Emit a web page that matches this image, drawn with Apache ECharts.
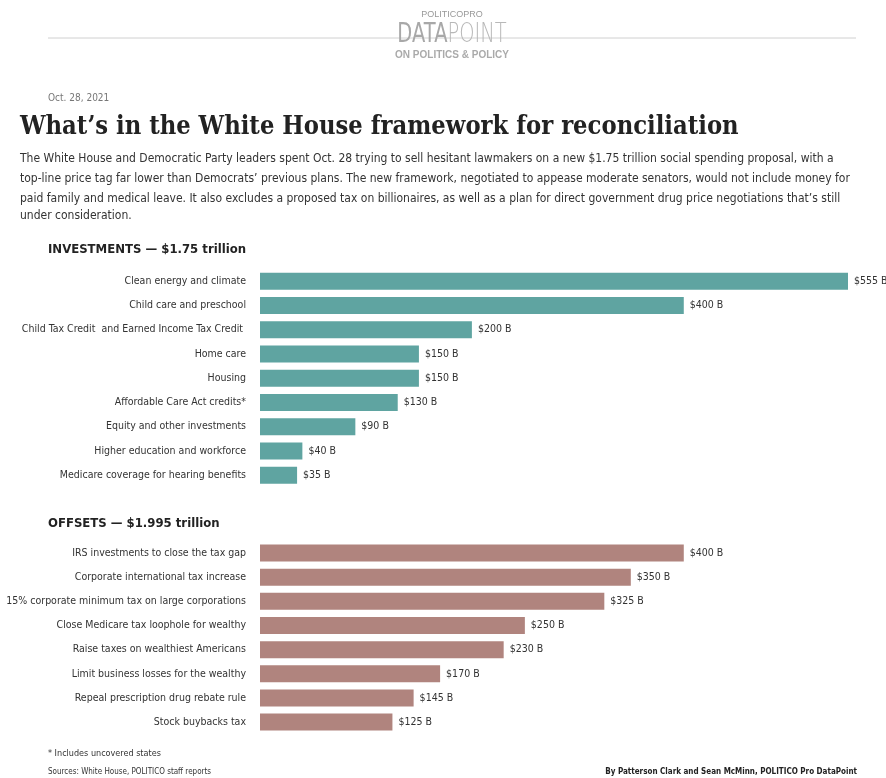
<!DOCTYPE html>
<html><head><meta charset="utf-8">
<script src="https://cdn.jsdelivr.net/npm/echarts@6/dist/echarts.min.js"></script>
<style>html,body{margin:0;padding:0;background:#fff}#c{width:886px;height:778px}</style>
</head><body><div id="c"></div>
<script>
const investCats = ["Clean energy and climate","Child care and preschool","Child Tax Credit  and Earned Income Tax Credit ","Home care","Housing","Affordable Care Act credits*","Equity and other investments","Higher education and workforce","Medicare coverage for hearing benefits"];
const investVals = [555,400,200,150,150,130,90,40,35];
const offsetCats = ["IRS investments to close the tax gap","Corporate international tax increase","15% corporate minimum tax on large corporations","Close Medicare tax loophole for wealthy","Raise taxes on wealthiest Americans","Limit business losses for the wealthy","Repeal prescription drug rebate rule","Stock buybacks tax"];
const offsetVals = [400,350,325,250,230,170,145,125];

const narrow = "'Liberation Sans Narrow','DejaVu Sans Condensed',sans-serif";
const chart = echarts.init(document.getElementById('c'));
const pxPerB = 588/555;
const xMax = 580;
const gridW = xMax*pxPerB;
function grid(top,n,sp){return {left:260,width:gridW,top:top,height:n*sp,containLabel:false,outerBoundsMode:'none'};}
function xa(i){return {gridIndex:i,type:'value',min:0,max:xMax,show:false};}
function ya(i,cats){return {gridIndex:i,type:'category',data:cats,inverse:true,axisLine:{show:false},axisTick:{show:false},splitLine:{show:false},
  axisLabel:{margin:14,fontFamily:narrow,fontSize:10.5,color:'#333'}};}
function ser(i,vals,color){return {type:'bar',xAxisIndex:i,yAxisIndex:i,data:vals,barWidth:17,itemStyle:{color:color},
  label:{show:true,position:'right',distance:6,fontFamily:narrow,fontSize:10.5,color:'#333',formatter:p=>'$'+p.value+' B'},silent:true,animation:false};}
const txt=(x,y,text,font,fill,align,extra)=>Object.assign({type:'text',x:x,y:y,style:{text:text,font:font,fill:fill,textAlign:align||'left',textVerticalAlign:'middle'}},extra||{});
chart.setOption({
  animation:false,
  grid:[grid(269,9,24.25),grid(541,8,24.14)],
  xAxis:[xa(0),xa(1)],
  yAxis:[ya(0,investCats),ya(1,offsetCats)],
  series:[ser(0,investVals,'#5fa4a1'),ser(1,offsetVals,'#b0847e')],
  graphic:[
    {type:'line',shape:{x1:48,y1:38,x2:856,y2:38},style:{stroke:'#d0d0d0',lineWidth:1}},
    {type:'text',x:452,y:35,scaleX:0.72,style:{text:'{a|DATA}{b|POINT}',textAlign:'center',textVerticalAlign:'middle',
      rich:{a:{font:"27px 'DejaVu Sans',sans-serif",fill:'#a8a8a8'},b:{font:"200 27px 'DejaVu Sans',sans-serif",fill:'#b8b8b8'}}}},
    txt(452,15,'POLITICOPRO',"9px 'Liberation Sans Narrow',sans-serif",'#999','center'),
    txt(452,55,'ON POLITICS & POLICY',"bold 10px 'Liberation Sans',sans-serif",'#aaa','center'),
    txt(48,98,'Oct. 28, 2021',"10px "+narrow,'#777'),
    txt(20,127,'What\u2019s in the White House framework for reconciliation',"bold 25.3px 'DejaVu Serif Condensed','DejaVu Serif',serif",'#222'),
    txt(20,159,'The White House and Democratic Party leaders spent Oct. 28 trying to sell hesitant lawmakers on a new $1.75 trillion social spending proposal, with a',"12px "+narrow,'#333'),
    txt(20,179,'top-line price tag far lower than Democrats\u2019 previous plans. The new framework, negotiated to appease moderate senators, would not include money for',"12px "+narrow,'#333'),
    txt(20,199,'paid family and medical leave. It also excludes a proposed tax on billionaires, as well as a plan for direct government drug price negotiations that\u2019s still',"12px "+narrow,'#333'),
    txt(20,216,'under consideration.',"12px "+narrow,'#333'),
    txt(48,250,'INVESTMENTS \u2014 $1.75 trillion',"bold 13px "+narrow,'#222'),
    txt(48,524,'OFFSETS \u2014 $1.995 trillion',"bold 13px "+narrow,'#222'),
    txt(48,754,'* Includes uncovered states',"9px "+narrow,'#333'),
    txt(48,772,'Sources: White House, POLITICO staff reports',"8px "+narrow,'#333'),
    txt(857,772,'By Patterson Clark and Sean McMinn, POLITICO Pro DataPoint',"bold 8px "+narrow,'#222','right')
  ]
});
</script></body></html>
